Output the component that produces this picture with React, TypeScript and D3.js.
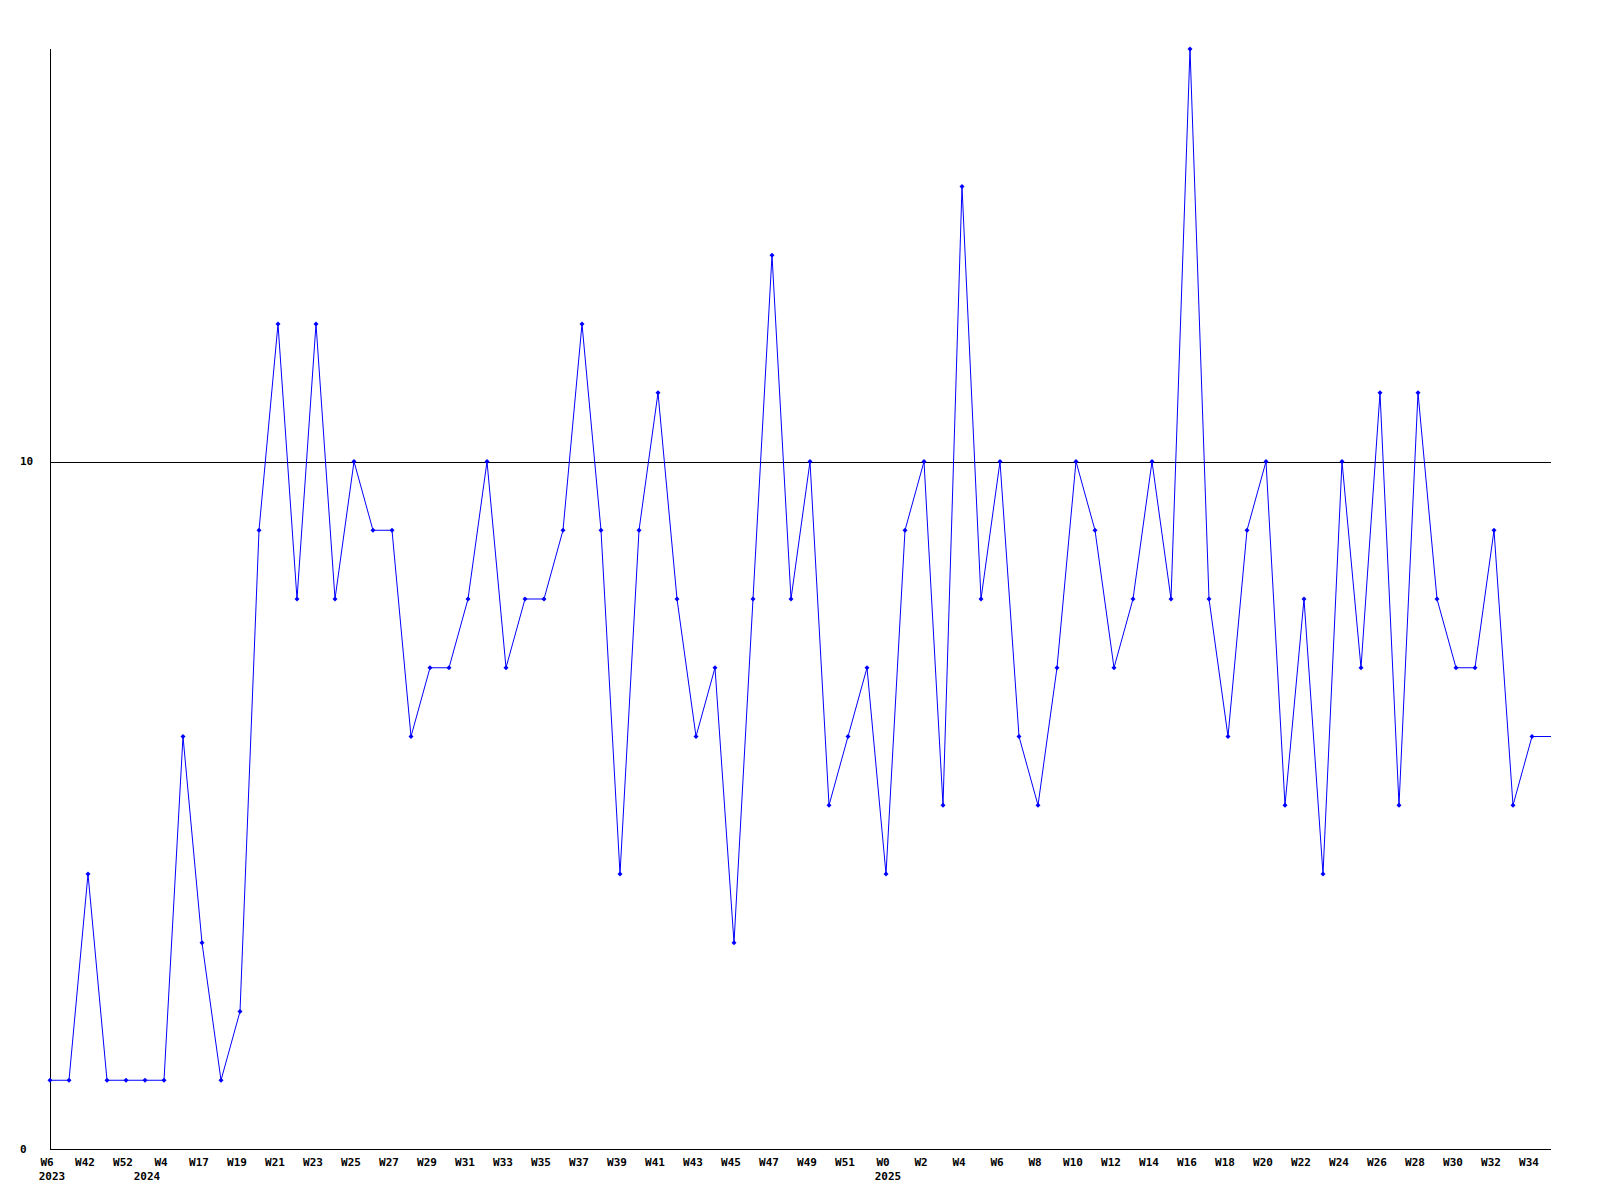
import React from "react";
import * as d3 from "d3";

const values: number[] = [
  1, 1, 4, 1, 1, 1, 1, 6, 3, 1,
  2, 9, 12, 8, 12, 8, 10, 9, 9, 6,
  7, 7, 8, 10, 7, 8, 8, 9, 12, 9,
  4, 9, 11, 8, 6, 7, 3, 8, 13, 8,
  10, 5, 6, 7, 4, 9, 10, 5, 14, 8,
  10, 6, 5, 7, 10, 9, 7, 8, 10, 8,
  16, 8, 6, 9, 10, 5, 8, 4, 10, 7,
  11, 5, 11, 8, 7, 7, 9, 5, 6,
];

const weekLabels: string[] = [
  "W6", "W42", "W52", "W4", "W17", "W19", "W21", "W23", "W25", "W27",
  "W29", "W31", "W33", "W35", "W37", "W39", "W41", "W43", "W45", "W47",
  "W49", "W51", "W0", "W2", "W4", "W6", "W8", "W10", "W12", "W14",
  "W16", "W18", "W20", "W22", "W24", "W26", "W28", "W30", "W32", "W34",
];

const yearLabels: string[] = ["2023", "2024", "2025"];
const yearIndex: number[] = [0, 5, 44];

const yTicks: number[] = [0, 10];
const yMax = 16;

const W = 1600;
const H = 1200;
const left = 50;
const right = 1551;
const top = 49;
const bottom = 1149;

export default function App() {
  const n = values.length;
  const x = d3.scaleLinear().domain([0, 78]).range([left, left + 78 * 19.0]);
  const y = d3.scaleLinear().domain([0, yMax]).range([bottom, top]);

  const pts: [number, number][] = values.map((v, i) => [x(i), y(v)]);
  const linePts: [number, number][] = [...pts, [right, y(values[n - 1])]];
  const line = d3.line<[number, number]>().x((d) => d[0]).y((d) => d[1]);

  const font = "'DejaVu Sans Mono', 'Liberation Mono', monospace";

  return (
    <svg
      width={W}
      height={H}
      style={{ position: "absolute", left: 0, top: 0, background: "#fff" }}
      fontFamily={font}
      fontWeight="bold"
      fontSize={11}
    >
      <rect x={0} y={0} width={W} height={H} fill="#fff" />
      {yTicks
        .filter((t) => t !== 0)
        .map((t) => (
          <line
            key={"g" + t}
            x1={left}
            x2={right}
            y1={Math.round(y(t)) + 0.5}
            y2={Math.round(y(t)) + 0.5}
            stroke="#000"
            strokeWidth={1}
          />
        ))}
      <line x1={left + 0.5} x2={left + 0.5} y1={top} y2={bottom + 0.5} stroke="#000" />
      <line x1={left} x2={right} y1={bottom + 0.5} y2={bottom + 0.5} stroke="#000" />
      {yTicks.map((t) => (
        <text key={"y" + t} x={20} y={y(t)} textAnchor="start" dominantBaseline="central" fill="#000">
          {t}
        </text>
      ))}
      {weekLabels.map((lab, k) => (
        <text key={"w" + k} x={x(k * 2) - 3} y={1166} textAnchor="middle" fill="#000">
          {lab}
        </text>
      ))}
      {yearLabels.map((lab, k) => (
        <text key={"yr" + k} x={x(yearIndex[k]) + 2} y={1180} textAnchor="middle" fill="#000">
          {lab}
        </text>
      ))}
      <path d={line(linePts) || ""} fill="none" stroke="#0000ff" strokeWidth={1} />
      {pts.map((p, i) => (
        <path
          key={"m" + i}
          d={`M${p[0]},${p[1] - 2.5}L${p[0] + 2.5},${p[1]}L${p[0]},${p[1] + 2.5}L${p[0] - 2.5},${p[1]}Z`}
          fill="#0000ff"
        />
      ))}
    </svg>
  );
}
